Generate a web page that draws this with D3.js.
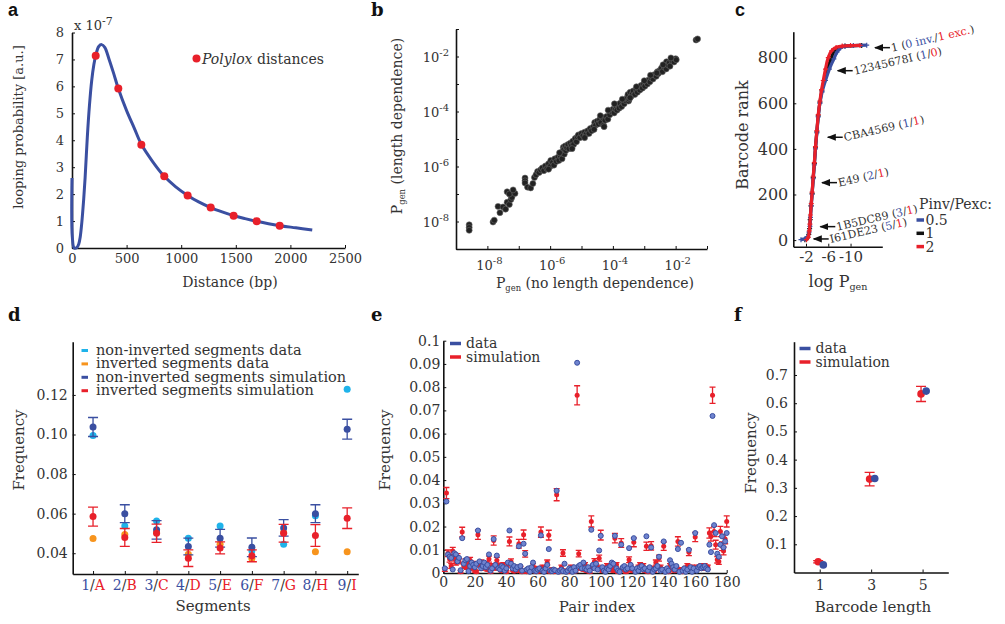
<!DOCTYPE html>
<html>
<head>
<meta charset="utf-8">
<script src="https://cdn.jsdelivr.net/npm/d3@7"></script>
<style>
body { margin: 0; background: #fff; }
svg text { font-family: 'DejaVu Serif', serif; fill: #333; }
</style>
</head>
<body>
<svg id="fig" width="1005" height="624"></svg>
<script>
// ---- panel a : looping probability ----
const aDist = [0, 3, 20, 45, 62, 75, 90, 105, 120, 140, 160, 180, 200, 217, 245, 272, 300, 340, 380, 424, 500, 570, 635, 740, 845, 950, 1059, 1160, 1270, 1375, 1480, 1585, 1691, 1800, 1902, 2050, 2200];
const aProb = [2.6, 0.4, 0.0, 0.02, 0.15, 0.4, 0.95, 1.7, 2.6, 4.1, 5.3, 6.2, 6.8, 7.14, 7.48, 7.55, 7.45, 7.0, 6.5, 5.92, 5.1, 4.45, 3.85, 3.2, 2.66, 2.27, 1.95, 1.71, 1.5, 1.34, 1.2, 1.09, 0.99, 0.9, 0.83, 0.75, 0.67];
const polyloxDist = [217, 424, 635, 845, 1059, 1270, 1480, 1691, 1902];
const polyloxProb = [7.14, 5.92, 3.83, 2.66, 1.95, 1.5, 1.2, 0.99, 0.83];

// ---- panel b : log10 Pgen, [no length dep, length dep] ----
const bPoints = [
	[-8.58,-8.12],[-8.58,-8.22],[-8.58,-8.32],[-7.82,-8.02],[-7.78,-7.95],
	[-7.66,-7.45],[-7.6,-7.68],[-7.5,-7.47],[-7.42,-7.55],[-7.37,-7.3],[-7.3,-7.38],[-7.25,-7.2],[-7.22,-7.12],
	[-7.37,-6.92],[-7.3,-7.0],[-7.12,-6.98],[-7.18,-6.85],
	[-6.8,-6.42],[-6.8,-6.52],[-6.8,-6.6],[-6.72,-6.75],[-6.62,-6.78],[-6.55,-6.62],[-6.5,-6.4],[-6.45,-6.3],
	[-6.4,-6.18],[-6.35,-6.22],[-6.3,-6.12],[-6.25,-6.05],[-6.2,-6.15],[-6.15,-5.98],[-6.1,-6.08],[-6.05,-5.9],
	[-6.0,-6.0],[-5.98,-5.78],[-5.92,-5.85],[-5.88,-5.95],[-5.85,-5.72],[-5.8,-5.82],[-5.75,-5.66],[-5.72,-5.78],
	[-5.68,-5.6],[-5.62,-5.72],[-5.6,-5.45],[-5.58,-5.3],[-5.56,-5.38],[-5.55,-5.55],[-5.52,-5.25],[-5.5,-5.42],
	[-5.47,-5.32],[-5.43,-5.2],[-5.4,-5.35],[-5.36,-5.15],[-5.32,-5.25],[-5.28,-5.08],[-5.25,-5.2],[-5.2,-4.98],
	[-5.16,-5.1],[-5.13,-4.92],[-5.1,-4.85],[-5.05,-4.95],[-5.0,-4.8],[-4.95,-4.88],[-4.9,-4.75],[-4.85,-4.82],
	[-4.8,-4.7],[-4.76,-4.8],[-4.72,-4.62],[-4.68,-4.7],[-4.62,-4.55],[-4.58,-4.4],[-4.55,-4.5],[-4.5,-4.35],
	[-4.46,-4.45],[-4.42,-4.3],[-4.38,-4.4],[-4.33,-4.22],[-4.3,-4.5],[-4.28,-4.55],[-4.25,-4.32],[-4.2,-4.18],
	[-4.16,-4.28],[-4.1,-4.12],[-4.05,-4.0],[-4.0,-3.92],[-3.96,-4.05],[-3.92,-3.9],[-3.9,-3.8],[-3.87,-3.95],
	[-3.84,-3.75],[-3.8,-3.88],[-3.77,-3.7],[-3.72,-3.82],[-3.68,-3.66],[-3.64,-3.72],[-3.6,-3.6],[-3.55,-3.5],
	[-3.52,-3.38],[-3.5,-3.62],[-3.48,-3.55],[-3.45,-3.3],[-3.42,-3.45],[-3.38,-3.35],[-3.35,-3.25],[-3.3,-3.38],
	[-3.26,-3.2],[-3.22,-3.3],[-3.18,-3.12],[-3.14,-3.22],[-3.1,-3.05],[-3.06,-3.15],[-3.02,-3.0],[-2.98,-3.08],
	[-2.95,-2.92],[-2.9,-3.0],[-2.86,-2.85],[-2.82,-2.92],[-2.78,-2.78],[-2.72,-2.82],[-2.68,-2.66],[-2.62,-2.72],
	[-2.58,-2.55],[-2.55,-2.62],[-2.5,-2.5],[-2.45,-2.42],[-2.42,-2.55],[-2.36,-2.38],[-2.3,-2.45],[-2.29,-2.19],
	[-2.25,-2.3],[-2.2,-2.22],[-2.18,-2.35],[-2.12,-2.15],[-2.05,-2.2],[-2.0,-2.08],[-1.98,-2.12],
	[-6.05,-6.1],[-5.7,-5.5],[-5.3,-5.35],[-4.9,-4.95],[-4.6,-4.65],[-4.4,-4.15],[-4.15,-3.95],[-3.95,-3.72],
	[-3.7,-3.55],[-3.45,-3.5],[-3.25,-3.1],[-3.0,-2.88],[-2.8,-2.68],[-2.6,-2.6],[-2.4,-2.3],[-2.15,-2.05],
	[-1.35,-1.4],[-1.3,-1.36]
];

// ---- panel c : [log Pgen, barcode rank] per Pinv/Pexc ----
const cHalf = [[-1.1,2],[-1.8,6],[-2.3,15],[-2.55,35],[-2.7,60],[-2.8,100],[-2.95,150],[-3.1,200],[-3.3,270],[-3.5,330],[-3.7,400],[-3.95,470],[-4.2,540],[-4.5,600],[-4.9,650],[-5.5,700],[-6.2,750],[-7.0,795],[-7.6,825],[-8.2,842],[-9.0,850],[-10.5,853],[-12.9,855]];
const cOne = [[-1.8,2],[-2.2,8],[-2.5,25],[-2.65,50],[-2.75,90],[-2.9,150],[-3.1,205],[-3.3,275],[-3.5,335],[-3.7,405],[-3.95,475],[-4.2,545],[-4.5,605],[-4.85,655],[-5.3,700],[-5.8,750],[-6.5,795],[-7.1,830],[-7.9,845],[-9.0,851],[-12.0,854]];
const cTwo = [[-2.1,2],[-2.4,12],[-2.6,40],[-2.7,70],[-2.8,110],[-2.95,160],[-3.1,210],[-3.3,280],[-3.5,340],[-3.7,410],[-3.95,480],[-4.2,550],[-4.5,610],[-4.8,660],[-5.1,700],[-5.5,750],[-6.0,800],[-6.6,830],[-7.4,845],[-8.5,851],[-10,853],[-11.7,854]];
const cLegend = ['0.5', '1', '2'];
const annRank = [844, 743, 451, 252, 59, 5];
const annLogP = [-14.2, -7.51, -5.72, -4.69, -4.39, -3.2];
const annName = ['1', '12345678I', 'CBA4569', 'E49', '1B5DC89', 'I61DE23'];
const annInv = ['0 inv.', '1', '1', '2', '3', '5'];
const annExc = ['1 exc.', '0', '1', '1', '1', '1'];

// ---- panel d : segment frequencies ----
const segNum = ['1', '2', '3', '4', '5', '6', '7', '8', '9'];
const segLet = ['A', 'B', 'C', 'D', 'E', 'F', 'G', 'H', 'I'];
const nonInvData = [0.0995, 0.0538, 0.0563, 0.0476, 0.0538, 0.0412, 0.0445, 0.0589, 0.1229];
const invData = [0.0474, 0.0495, 0.0505, 0.0395, 0.0445, 0.0373, 0.0505, 0.0407, 0.0407];
const nonInvSim = [0.1038, 0.0600, 0.0518, 0.0434, 0.0476, 0.0430, 0.0528, 0.0600, 0.1027];
const nonInvSimErr = [0.0048, 0.0045, 0.0047, 0.0042, 0.0045, 0.0047, 0.0042, 0.0045, 0.005];
const invSim = [0.0585, 0.0480, 0.0501, 0.0375, 0.0427, 0.0387, 0.0501, 0.0490, 0.0577];
const invSimErr = [0.0048, 0.0045, 0.0046, 0.0042, 0.003, 0.003, 0.0045, 0.0055, 0.0052];
const dLegend = ['non-inverted segments data', 'inverted segments data', 'non-inverted segments simulation', 'inverted segments simulation'];

// ---- panel e : pair frequencies, in units of 1e-3, pairs 1..180 ----
const pairData = [
	2.0, 30.8, 8.0, 7.0, 6.5, 1.5, 8.5, 8.0, 5.0, 6.5,
	1.2, 15.0, 4.0, 5.5, 6.0, 0.8, 3.0, 4.5, 3.5, 2.5,
	4.0, 18.3, 5.0, 2.0, 3.0, 4.5, 2.5, 3.5, 8.0, 1.0,
	2.0, 14.6, 3.5, 7.5, 2.0, 1.5, 3.0, 2.5, 1.0, 2.0,
	4.5, 18.3, 4.0, 2.0, 3.0, 1.5, 2.5, 11.5, 3.0, 1.0,
	12.6, 8.3, 1.5, 2.0, 0.5, 2.5, 4.5, 1.0, 0.8, 1.5,
	2.0, 16.2, 1.0, 0.5, 2.0, 3.5, 10.3, 1.0, 0.8, 1.5,
	1.2, 35.4, 0.5, 1.0, 1.5, 0.8, 4.0, 0.5, 1.0, 2.0,
	1.5, 0.5, 2.5, 1.0, 90.5, 3.0, 3.5, 2.0, 4.5, 2.0,
	1.5, 2.5, 1.0, 18.6, 3.5, 2.0, 4.0, 1.5, 9.7, 16.0,
	2.5, 1.0, 0.5, 2.0, 1.5, 3.0, 4.5, 4.0, 16.0, 2.0,
	1.0, 0.5, 12.2, 2.5, 3.0, 1.5, 2.0, 10.7, 3.5, 2.0,
	15.0, 0.5, 2.0, 1.0, 2.5, 3.0, 1.5, 2.0, 15.8, 1.0,
	2.5, 11.0, 0.5, 1.5, 2.0, 3.0, 7.0, 1.0, 1.5, 13.6,
	0.5, 2.0, 1.0, 5.5, 4.0, 2.5, 1.5, 3.0, 10.3, 0.5,
	13.0, 1.0, 2.0, 0.5, 1.5, 10.0, 2.5, 0.5, 2.0, 17.2,
	1.0, 2.5, 3.0, 2.0, 2.5, 3.0, 2.0, 1.5, 12.2, 9.0,
	67.6, 20.6, 17.2, 8.3, 7.0, 12.2, 15.8, 11.0, 13.6, 17.2
];
const pairSim = [
	1.5, 34.4, 8.5, 6.0, 3.0, 9.5, 6.5, 4.5, 7.0, 5.0,
	0.5, 17.6, 3.0, 5.0, 2.5, 4.0, 5.5, 2.0, 4.0, 1.0,
	0.5, 16.5, 3.5, 4.5, 2.0, 3.0, 4.0, 1.5, 6.0, 0.5,
	3.0, 14.0, 2.0, 5.5, 3.0, 2.5, 1.0, 3.5, 2.0, 0.5,
	3.5, 13.6, 5.0, 1.5, 0.8, 2.5, 1.0, 12.6, 2.0, 0.5,
	16.5, 8.2, 0.5, 1.0, 1.5, 1.0, 3.0, 2.0, 0.5, 1.0,
	0.8, 17.6, 2.5, 0.8, 1.0, 4.5, 16.3, 0.5, 1.5, 0.5,
	0.8, 33.7, 1.0, 0.5, 2.5, 8.6, 1.0, 0.8, 0.5, 1.0,
	2.5, 1.0, 1.5, 0.8, 76.5, 8.3, 2.0, 3.0, 1.5, 3.5,
	1.0, 2.0, 0.5, 22.2, 2.5, 5.0, 3.0, 2.5, 6.4, 16.3,
	1.0, 2.0, 1.5, 3.0, 2.5, 1.5, 2.0, 1.0, 15.0, 3.5,
	0.5, 1.0, 12.9, 1.5, 2.0, 0.5, 1.5, 5.7, 2.5, 1.0,
	13.2, 1.0, 1.5, 2.5, 3.5, 2.0, 3.0, 1.0, 11.5, 0.5,
	1.5, 11.7, 2.0, 1.0, 4.5, 2.0, 6.4, 2.5, 1.0, 11.5,
	1.5, 1.0, 0.5, 3.0, 2.0, 1.5, 1.0, 2.0, 13.6, 1.5,
	1.5, 0.5, 1.5, 2.0, 3.0, 8.9, 2.0, 2.5, 1.0, 15.5,
	2.5, 2.0, 2.5, 3.0, 2.0, 3.0, 2.5, 2.5, 17.2, 15.8,
	76.5, 17.9, 12.2, 5.7, 5.0, 17.9, 11.5, 9.5, 14.6, 22.2
];
const pairSimErr = [
	0.8, 2.4, 1.4, 1.3, 1.0, 1.5, 1.3, 1.1, 1.3, 1.1,
	0.5, 2.1, 1.0, 1.1, 0.9, 1.0, 1.2, 0.8, 1.0, 0.6,
	0.5, 2.0, 1.0, 1.1, 0.8, 1.0, 1.0, 0.7, 1.3, 0.5,
	1.0, 2.0, 0.8, 1.2, 1.0, 0.9, 0.6, 1.0, 0.8, 0.5,
	1.0, 1.9, 1.1, 0.7, 0.5, 0.9, 0.6, 1.9, 0.8, 0.5,
	2.0, 1.4, 0.5, 0.6, 0.7, 0.6, 1.0, 0.8, 0.5, 0.6,
	0.5, 2.2, 0.9, 0.5, 0.6, 1.1, 2.1, 0.5, 0.7, 0.5,
	0.5, 2.6, 0.6, 0.5, 0.9, 1.4, 0.6, 0.5, 0.5, 0.6,
	0.9, 0.6, 0.7, 0.5, 4.1, 1.4, 0.8, 1.0, 0.7, 1.0,
	0.6, 0.8, 0.5, 2.4, 0.9, 1.2, 1.0, 0.9, 1.3, 2.1,
	0.6, 0.8, 0.7, 1.0, 0.9, 0.7, 0.8, 0.6, 2.0, 1.0,
	0.5, 0.6, 1.9, 0.7, 0.8, 0.5, 0.7, 1.2, 0.9, 0.6,
	1.9, 0.6, 0.7, 0.9, 1.0, 0.8, 1.0, 0.6, 1.8, 0.5,
	0.7, 1.8, 0.8, 0.6, 1.1, 0.8, 1.3, 0.9, 0.6, 1.8,
	0.7, 0.6, 0.5, 1.0, 0.8, 0.7, 0.6, 0.8, 2.0, 0.7,
	0.7, 0.5, 0.7, 0.8, 1.0, 1.4, 0.8, 0.9, 0.6, 2.0,
	0.9, 0.8, 0.9, 1.0, 0.8, 1.0, 0.9, 0.9, 2.2, 2.1,
	3.5, 2.2, 1.9, 1.4, 1.3, 2.2, 1.9, 1.7, 2.0, 2.4
];

// ---- panel f : barcode length ----
const barcodeLen = [1, 3, 5];
const lenData = [0.027, 0.333, 0.643];
const lenSim = [0.038, 0.331, 0.633];
const lenSimErr = [0.004, 0.024, 0.027];

const BLUE = '#3a4fa1', RED = '#e8202a', LBLUE = '#1fb3ea', ORANGE = '#f7941d', GREY = '#333';
const svg = d3.select('#fig');
svg.append('rect').attr('width', 1005).attr('height', 624).attr('fill', '#fff');

svg.append('defs').append('marker')
	.attr('id', 'arr').attr('viewBox', '0 0 10 10').attr('refX', 9).attr('refY', 5)
	.attr('markerWidth', 6).attr('markerHeight', 6).attr('orient', 'auto-start-reverse')
	.append('path').attr('d', 'M0,1L10,5L0,9Z').attr('fill', '#111');

function styleAxis (g, size) {
	g.attr('font-size', size);
	g.select('.domain').attr('stroke', '#111').attr('stroke-width', 1.6);
	g.selectAll('.tick line').attr('stroke', '#111');
	g.selectAll('.tick text').attr('fill', GREY);
	return g;
}

function label (t, x, y, sans) {
	svg.append('text').attr('x', x).attr('y', y).text(t)
		.style('font-weight', 'bold').style('font-size', '18px')
		.style('font-family', sans ? "'Liberation Sans', Arial, sans-serif" : "'DejaVu Serif', serif")
		.style('fill', '#111');
}

function vTitle (x, y, size) {
	return svg.append('text').attr('transform', `translate(${x},${y}) rotate(-90)`)
		.attr('text-anchor', 'middle').style('font-size', size + 'px');
}

function hTitle (x, y, size) {
	return svg.append('text').attr('x', x).attr('y', y)
		.attr('text-anchor', 'middle').style('font-size', size + 'px');
}

function pgen (t, size, rest) {
	t.append('tspan').text('P');
	t.append('tspan').attr('dy', 3).style('font-size', (size * 0.6) + 'px').text('gen');
	if (rest) t.append('tspan').attr('dy', -3).text(rest);
}

function errBars (g, rows, x, y, color, cap) {
	g.selectAll(null).data(rows).join('path')
		.attr('d', d => {
			const x0 = x(d.x), y1 = y(d.v - d.e), y2 = y(d.v + d.e);
			return `M${x0},${y1}V${y2}M${x0 - cap},${y1}H${x0 + cap}M${x0 - cap},${y2}H${x0 + cap}`;
		})
		.attr('stroke', color).attr('stroke-width', 1.3).attr('fill', 'none');
}

function legendRow (x, y, color, text, size) {
	svg.append('line').attr('x1', x).attr('x2', x + 11).attr('y1', y).attr('y2', y)
		.attr('stroke', color).attr('stroke-width', 3.5);
	svg.append('text').attr('x', x + 16).attr('y', y + 4.5).style('font-size', size + 'px').text(text);
}

// ================= a =================
label('a', 8, 16, true);
const xA = d3.scaleLinear().domain([0, 2500]).range([72, 345]);
const yA = d3.scaleLinear().domain([0, 8]).range([248, 32.5]);
styleAxis(svg.append('g').attr('transform', 'translate(0,248)')
	.call(d3.axisBottom(xA).tickValues(d3.range(0, 2501, 500)).tickFormat(d3.format('d')).tickSizeInner(-3).tickSizeOuter(0).tickPadding(6)), 13);
styleAxis(svg.append('g').attr('transform', 'translate(72,0)')
	.call(d3.axisLeft(yA).tickValues(d3.range(0, 9)).tickSizeInner(-3).tickSizeOuter(0).tickPadding(8)), 13);
svg.append('path')
	.datum(aDist.map((d, i) => [d, aProb[i]]))
	.attr('d', d3.line().x(d => xA(d[0])).y(d => yA(d[1])).curve(d3.curveCatmullRom.alpha(0.5)))
	.attr('fill', 'none').attr('stroke', BLUE).attr('stroke-width', 3);
svg.selectAll(null).data(polyloxDist).join('circle')
	.attr('cx', d => xA(d)).attr('cy', (d, i) => yA(polyloxProb[i])).attr('r', 4).attr('fill', RED);
const aExp = svg.append('text').attr('x', 74).attr('y', 30).style('font-size', '13px');
aExp.append('tspan').text('x 10');
aExp.append('tspan').attr('dy', -5).style('font-size', '11px').text('-7');
svg.append('circle').attr('cx', 196.5).attr('cy', 58.5).attr('r', 4).attr('fill', RED);
const aLeg = svg.append('text').attr('x', 202).attr('y', 63.5).style('font-size', '14px');
aLeg.append('tspan').style('font-style', 'italic').text('Polylox');
aLeg.append('tspan').text(' distances');
vTitle(23, 127, 13).text('looping probability [a.u.]');
hTitle(230, 287, 14).text('Distance (bp)');

// ================= b =================
label('b', 371, 16, false);
const xB = d3.scaleLog().domain([1e-9, 1e-1]).range([456, 707]);
const yB = d3.scaleLog().domain([1e-9, 1e-1]).range([249, 29]);
const decades = d3.range(-9, 0).map(e => Math.pow(10, e));
styleAxis(svg.append('g').attr('transform', 'translate(0,249)')
	.call(d3.axisBottom(xB).tickValues(decades).tickFormat('').tickSizeInner(-3).tickSizeOuter(0)), 13);
styleAxis(svg.append('g').attr('transform', 'translate(456,0)')
	.call(d3.axisLeft(yB).tickValues(decades).tickFormat('').tickSizeInner(-3).tickSizeOuter(0)), 13);
[-8, -6, -4, -2].forEach(e => {
	const tx = svg.append('text').attr('x', xB(Math.pow(10, e)) + 2).attr('y', 270)
		.attr('text-anchor', 'middle').style('font-size', '13px');
	tx.append('tspan').text('10');
	tx.append('tspan').attr('dy', -6).style('font-size', '10px').text(e);
	const ty = svg.append('text').attr('x', 449).attr('y', yB(Math.pow(10, e)) + 5)
		.attr('text-anchor', 'end').style('font-size', '13px');
	ty.append('tspan').text('10');
	ty.append('tspan').attr('dy', -6).style('font-size', '10px').text(e);
});
svg.append('g').selectAll('circle').data(bPoints).join('circle')
	.attr('cx', d => xB(Math.pow(10, d[0]))).attr('cy', d => yB(Math.pow(10, d[1])))
	.attr('r', 3).attr('fill', '#222').attr('stroke', '#666').attr('stroke-width', 0.6);
pgen(vTitle(402, 126, 14), 14, ' (length dependence)');
pgen(hTitle(595, 288, 14), 14, ' (no length dependence)');

// ================= c =================
label('c', 735, 16, true);
const xC = d3.scaleLinear().domain([0.28, -15.7]).range([793.3, 882.3]);
const yC = d3.scaleLinear().domain([-29, 914]).range([246.7, 31.7]);
styleAxis(svg.append('g').attr('transform', 'translate(0,246.7)')
	.call(d3.axisBottom(xC).tickValues([-2, -6, -10]).tickFormat(d => String(d).replace('−', '-')).tickSizeInner(-3).tickSizeOuter(0).tickPadding(5)), 15);
styleAxis(svg.append('g').attr('transform', 'translate(793.3,0)')
	.call(d3.axisLeft(yC).tickValues([0, 200, 400, 600, 800]).tickSizeInner(-3).tickSizeOuter(0).tickPadding(5)), 16);
const cLine = d3.line().x(d => xC(d[0])).y(d => yC(d[1])).curve(d3.curveMonotoneY);
[[cOne, '#111'], [cHalf, BLUE], [cTwo, RED]].forEach(([s, col]) => {
	svg.append('path').datum(s).attr('d', cLine)
		.attr('fill', 'none').attr('stroke', col).attr('stroke-width', 3.2).attr('stroke-linejoin', 'round');
	svg.append('g').selectAll('path').data(s).join('path')
		.attr('d', d => `M${xC(d[0]) - 2.5},${yC(d[1])}h5M${xC(d[0])},${yC(d[1]) - 2.5}v5`)
		.attr('stroke', col).attr('stroke-width', 1.2);
});
annRank.forEach((r, i) => {
	const tx = xC(annLogP[i]), ty = yC(r);
	svg.append('line').attr('x1', tx + 16).attr('x2', tx + 1).attr('y1', ty).attr('y2', ty)
		.attr('stroke', '#111').attr('stroke-width', 1.5).attr('marker-end', 'url(#arr)');
	const t = svg.append('text').attr('transform', `translate(${tx + 18},${ty + 4}) rotate(-13)`)
		.style('font-size', '11px');
	t.append('tspan').text(annName[i] + ' (');
	t.append('tspan').style('fill', BLUE).text(annInv[i]);
	t.append('tspan').text('/');
	t.append('tspan').style('fill', RED).text(annExc[i]);
	t.append('tspan').text(')');
});
svg.append('text').attr('x', 919).attr('y', 209).style('font-size', '14px').text('Pinv/Pexc:');
[BLUE, '#111', RED].forEach((col, i) => {
	const y = 220 + i * 13.3;
	svg.append('line').attr('x1', 916.5).attr('x2', 924).attr('y1', y).attr('y2', y)
		.attr('stroke', col).attr('stroke-width', 3.5);
	svg.append('text').attr('x', 925.5).attr('y', y + 5).style('font-size', '14px').text(cLegend[i]);
});
vTitle(748, 135, 16).text('Barcode rank');
const cx = hTitle(838, 287, 16);
cx.append('tspan').text('log ');
pgen(cx, 16);

// ================= d =================
label('d', 8, 321, false);
const xD = d3.scaleLinear().domain([0.36, 9.35]).range([72.7, 358.3]);
const yD = d3.scaleLinear().domain([0.0295, 0.1469]).range([574, 341.7]);
styleAxis(svg.append('g').attr('transform', 'translate(0,574)')
	.call(d3.axisBottom(xD).tickValues(d3.range(1, 10)).tickFormat('').tickSizeInner(-3).tickSizeOuter(0)), 14);
styleAxis(svg.append('g').attr('transform', 'translate(72.7,0)')
	.call(d3.axisLeft(yD).tickValues([0.04, 0.06, 0.08, 0.10, 0.12]).tickFormat(d3.format('.2f')).tickSizeInner(-3).tickSizeOuter(0).tickPadding(5)), 14);
segNum.forEach((n, i) => {
	const t = svg.append('text').attr('x', xD(i + 1)).attr('y', 590)
		.attr('text-anchor', 'middle').style('font-size', '14px');
	t.append('tspan').style('fill', BLUE).text(n);
	t.append('tspan').text('/');
	t.append('tspan').style('fill', RED).text(segLet[i]);
});
const dIdx = d3.range(1, 10);
svg.append('g').selectAll('circle').data(dIdx).join('circle')
	.attr('cx', d => xD(d)).attr('cy', (d, i) => yD(invData[i])).attr('r', 3.5).attr('fill', ORANGE);
svg.append('g').selectAll('circle').data(dIdx).join('circle')
	.attr('cx', d => xD(d)).attr('cy', (d, i) => yD(nonInvData[i])).attr('r', 3.5).attr('fill', LBLUE);
errBars(svg.append('g'), dIdx.map((d, i) => ({ x: d, v: nonInvSim[i], e: nonInvSimErr[i] })), xD, yD, BLUE, 5);
svg.append('g').selectAll('circle').data(dIdx).join('circle')
	.attr('cx', d => xD(d)).attr('cy', (d, i) => yD(nonInvSim[i])).attr('r', 3.5).attr('fill', BLUE);
errBars(svg.append('g'), dIdx.map((d, i) => ({ x: d, v: invSim[i], e: invSimErr[i] })), xD, yD, RED, 5);
svg.append('g').selectAll('circle').data(dIdx).join('circle')
	.attr('cx', d => xD(d)).attr('cy', (d, i) => yD(invSim[i])).attr('r', 3.5).attr('fill', RED);
[LBLUE, ORANGE, BLUE, RED].forEach((col, i) => {
	const y = 350.5 + i * 13.4;
	svg.append('line').attr('x1', 81.5).attr('x2', 88).attr('y1', y).attr('y2', y)
		.attr('stroke', col).attr('stroke-width', 3);
	svg.append('text').attr('x', 96).attr('y', y + 4.5).style('font-size', '14.5px').text(dLegend[i]);
});
vTitle(24, 450, 15).text('Frequency');
hTitle(213, 611, 15).text('Segments');

// ================= e =================
label('e', 371, 321, false);
const xE = d3.scaleLinear().domain([0, 180]).range([443.3, 726.7]);
const yE = d3.scaleLinear().domain([0, 0.1]).range([573, 340.7]);
styleAxis(svg.append('g').attr('transform', 'translate(0,573)')
	.call(d3.axisBottom(xE).tickValues(d3.range(0, 181, 20)).tickSizeInner(-3).tickSizeOuter(0).tickPadding(4)), 14);
styleAxis(svg.append('g').attr('transform', 'translate(443.3,0)')
	.call(d3.axisLeft(yE).tickValues(d3.range(0, 11).map(k => k / 100))
		.tickFormat(d => d === 0 ? '0' : String(+d.toFixed(2))).tickSizeInner(-3).tickSizeOuter(0).tickPadding(3)), 14);
const pairRows = pairSim.map((v, i) => ({ x: i + 1, v: v / 1000, e: pairSimErr[i] / 1000 }));
errBars(svg.append('g'), pairRows, xE, yE, RED, 3);
svg.append('g').selectAll('circle').data(pairRows).join('circle')
	.attr('cx', d => xE(d.x)).attr('cy', d => yE(d.v)).attr('r', 2.5).attr('fill', RED);
svg.append('g').selectAll('circle').data(pairData).join('circle')
	.attr('cx', (d, i) => xE(i + 1)).attr('cy', d => yE(d / 1000)).attr('r', 2.5)
	.attr('fill', '#6f84cf').attr('stroke', '#3a4fa1').attr('stroke-width', 1);
legendRow(450, 343.5, BLUE, 'data', 14);
legendRow(450, 357, RED, 'simulation', 14);
vTitle(390, 450, 15).text('Frequency');
hTitle(597, 612, 15).text('Pair index');

// ================= f =================
label('f', 734, 321, false);
const xF = d3.scaleLinear().domain([0, 6]).range([794, 948.3]);
const yF = d3.scaleLinear().domain([0, 0.818]).range([572.5, 341.7]);
styleAxis(svg.append('g').attr('transform', 'translate(0,572.5)')
	.call(d3.axisBottom(xF).tickValues(barcodeLen).tickFormat(d3.format('d')).tickSizeInner(-3).tickSizeOuter(0).tickPadding(8)), 14);
styleAxis(svg.append('g').attr('transform', 'translate(794,0)')
	.call(d3.axisLeft(yF).tickValues(d3.range(1, 8).map(k => k / 10)).tickFormat(d3.format('.1f')).tickSizeInner(-3).tickSizeOuter(0).tickPadding(6)), 14);
errBars(svg.append('g'), barcodeLen.map((l, i) => ({ x: l - 0.06, v: lenSim[i], e: lenSimErr[i] })), xF, yF, RED, 5);
svg.append('g').selectAll('circle').data(barcodeLen).join('circle')
	.attr('cx', d => xF(d - 0.06)).attr('cy', (d, i) => yF(lenSim[i])).attr('r', 3.8).attr('fill', RED);
svg.append('g').selectAll('circle').data(barcodeLen).join('circle')
	.attr('cx', d => xF(d + 0.14)).attr('cy', (d, i) => yF(lenData[i])).attr('r', 3.8).attr('fill', BLUE);
legendRow(799.5, 348.5, BLUE, 'data', 14);
legendRow(799.5, 362, RED, 'simulation', 14);
vTitle(756, 453, 15).text('Frequency');
hTitle(873, 612, 15).text('Barcode length');
</script>
</body>
</html>
